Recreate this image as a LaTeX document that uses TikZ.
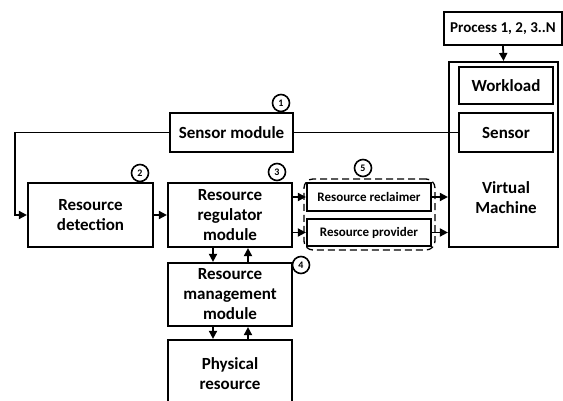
\documentclass[tikz,border=0pt]{standalone}
\usepackage{fontspec}
\setmainfont{Carlito}
\usetikzlibrary{arrows.meta}
\tikzset{
  box/.style={draw, line width=2.2pt, align=center, inner sep=0pt, font=\fontsize{17}{20}\selectfont\bfseries},
  smallbox/.style={box, font=\fontsize{13}{15}\selectfont\bfseries},
  arr/.style={line width=1.8pt, -{Triangle[length=8pt,width=8pt]}},
  conn/.style={line width=1.8pt},
  num/.style={draw, circle, line width=1.6pt, minimum size=17pt, inner sep=0pt, font=\fontsize{10}{11}\selectfont\bfseries},
  grp/.style={draw, dashed, dash pattern=on 7pt off 4pt, line width=1.3pt, rounded corners=9pt}
}
\begin{document}
\begin{tikzpicture}[x=1pt,y=-1pt]
\useasboundingbox (0,0) rectangle (563,401);
\clip (0,0) rectangle (563,401);
% right side
\node[box, minimum width=118pt, minimum height=33pt, font=\fontsize{15}{18}\selectfont\bfseries] (proc) at (503,28.5) {Process 1, 2, 3..N};
\node[box, minimum width=109pt, minimum height=185pt] (vm) at (503.5,154.5) {};
\node[box, minimum width=94pt, minimum height=37pt] (work) at (506,85.5) {Workload};
\node[box, minimum width=94pt, minimum height=39pt] (sens) at (506,132.5) {Sensor};
\node[font=\fontsize{17}{20}\selectfont\bfseries, align=center] (vmlabel) at (506,198) {Virtual\\Machine};
% middle
\node[box, minimum width=123pt, minimum height=39pt] (smod) at (231.5,132.5) {Sensor module};
\node[box, minimum width=125pt, minimum height=64pt] (det) at (90.5,215) {Resource\\detection};
\node[box, minimum width=124pt, minimum height=64pt] (reg) at (230,215) {Resource\\regulator\\module};
\node[box, minimum width=124pt, minimum height=63pt] (mgmt) at (230,294.5) {Resource\\management\\module};
\node[box, minimum width=124pt, minimum height=67pt] (phys) at (230,373.5) {Physical\\resource};
\node[grp, minimum width=131pt, minimum height=71pt] (group) at (369.5,214.5) {};
\node[smallbox, minimum width=124pt, minimum height=28pt] (recl) at (369,197) {Resource reclaimer};
\node[smallbox, minimum width=124pt, minimum height=27pt] (prov) at (369,232.5) {Resource provider};
% numbers
\node[num] (n1) at (281,103) {1};
\node[num] (n2) at (140,173) {2};
\node[num] (n3) at (277,172) {3};
\node[num] (n4) at (301,265) {4};
\node[num] (n5) at (363,168) {5};
% connectors
\coordinate (lft) at (15,132.5);
\draw[arr] (proc.south) -- (vm.north);
\draw[conn] (smod.east) -- (sens.west);
\draw[arr] (smod.west) -- (lft) |- (det.west);
\draw[arr] (det.east) -- (reg.west);
\draw[arr] (reg.east |- recl) -- (recl.west);
\draw[arr] (reg.east |- prov) -- (prov.west);
\draw[arr] (recl.east) -- (vm.west |- recl);
\draw[arr] (prov.east) -- (vm.west |- prov);
\draw[arr] ([xshift=-17pt]reg.south) -- ([xshift=-17pt]mgmt.north);
\draw[arr] ([xshift=18pt]mgmt.north) -- ([xshift=18pt]reg.south);
\draw[arr] ([xshift=-17pt]mgmt.south) -- ([xshift=-17pt]phys.north);
\draw[arr] ([xshift=18pt]phys.north) -- ([xshift=18pt]mgmt.south);
\end{tikzpicture}
\end{document}
